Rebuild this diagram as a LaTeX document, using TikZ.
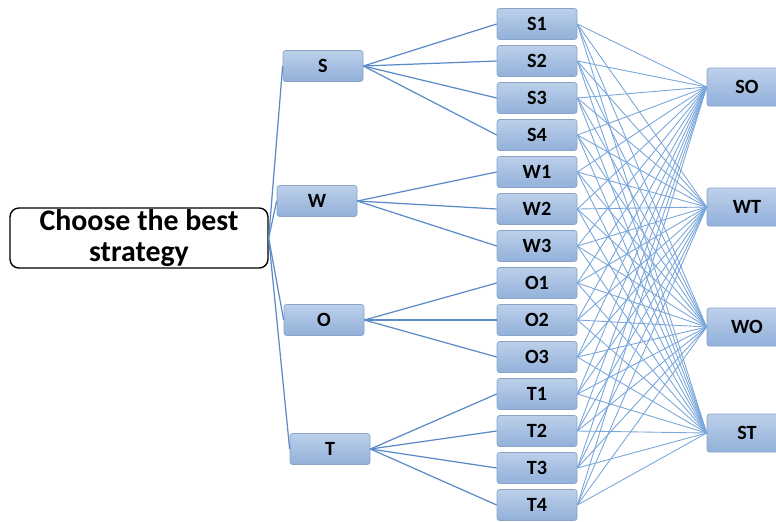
\documentclass[tikz,border=0pt]{standalone}
\usepackage{fontspec}
\setmainfont{Carlito}
\usepackage{tikz}

\definecolor{boxtop}{HTML}{BCD0EA}
\definecolor{boxbot}{HTML}{92B0DA}
\definecolor{boxline}{HTML}{8AA4C8}
\definecolor{linkblue}{HTML}{5A8BC8}
\definecolor{crossblue}{HTML}{79A6DA}

\tikzset{
  levelbox/.style={draw=boxline, rounded corners=1.5pt, top color=boxtop, bottom color=boxbot,
    minimum width=1.6cm, minimum height=0.62cm, font=\bfseries\fontsize{11.5}{13}\selectfont, inner sep=0pt},
  goalbox/.style={levelbox, minimum width=1.6cm, minimum height=0.76cm},
  rootbox/.style={draw, line width=0.8pt, rounded corners=5pt, fill=white, minimum width=5.16cm,
    minimum height=1.2cm, align=center, font=\bfseries\fontsize{17}{17.5}\selectfont, inner sep=0pt},
  link/.style={draw=linkblue, line width=0.7pt},
  cross/.style={draw=crossblue, line width=0.5pt}
}

\begin{document}
\begin{tikzpicture}[x=0.02cm, y=-0.02cm]
  \useasboundingbox (0,0) rectangle (776,521);

  % level one
  \node[rootbox]  (root) at (139,238) {Choose the best\\strategy};
  \node[levelbox] (s) at (323,66)  {S};
  \node[levelbox] (w) at (317,201) {W};
  \node[levelbox] (o) at (324,320) {O};
  \node[levelbox] (t) at (330,449) {T};

  % level two
  \node[levelbox] (s1) at (537,24)  {S1};
  \node[levelbox] (s2) at (537,61)  {S2};
  \node[levelbox] (s3) at (537,98)  {S3};
  \node[levelbox] (s4) at (537,135) {S4};
  \node[levelbox] (w1) at (537,172) {W1};
  \node[levelbox] (w2) at (537,209) {W2};
  \node[levelbox] (w3) at (537,246) {W3};
  \node[levelbox] (o1) at (537,283) {O1};
  \node[levelbox] (o2) at (537,320) {O2};
  \node[levelbox] (o3) at (537,357) {O3};
  \node[levelbox] (t1) at (537,394) {T1};
  \node[levelbox] (t2) at (537,431) {T2};
  \node[levelbox] (t3) at (537,468) {T3};
  \node[levelbox] (t4) at (537,505) {T4};

  % strategies
  \node[goalbox] (so) at (747,87)  {SO};
  \node[goalbox] (wt) at (747,207) {WT};
  \node[goalbox] (wo) at (747,327) {WO};
  \node[goalbox] (st) at (747,433) {ST};

  \foreach \m in {s1,s2,s3,s4,w1,w2,w3,o1,o2,o3,t1,t2,t3,t4}
    \foreach \g in {so,wt,wo,st}
      \path[cross] (\m.east) -- (\g.west);

  \foreach \k in {s,w,o,t}
    \path[link] (root.east) -- (\k.west);
  \foreach \k in {s1,s2,s3,s4} \path[link] (s.east) -- (\k.west);
  \foreach \k in {w1,w2,w3}    \path[link] (w.east) -- (\k.west);
  \foreach \k in {o1,o2,o3}    \path[link] (o.east) -- (\k.west);
  \foreach \k in {t1,t2,t3,t4} \path[link] (t.east) -- (\k.west);
\end{tikzpicture}
\end{document}
